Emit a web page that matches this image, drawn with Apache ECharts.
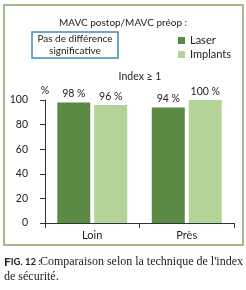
<!DOCTYPE html>
<html>
<head>
<meta charset="utf-8">
<script src="https://cdn.jsdelivr.net/npm/echarts@6/dist/echarts.min.js"></script>
<style>
  html, body { margin: 0; padding: 0; background: #fff; }
  #mainChart { width: 246px; height: 290px; }
</style>
</head>
<body>
<div id="mainChart"></div>
<script>
var categories = ['Loin', 'Près'];
var laser = [98, 94];
var implants = [96, 100];
var yTicks = [0, 20, 40, 60, 80, 100];

var font = "Lato, sans-serif";
var dark = '#5b8a44';
var light = '#b3d398';

var chart = echarts.init(document.getElementById('mainChart'));

var option = {
    animation: false,
    textStyle: { fontFamily: font },
    title: {
        text: 'MAVC postop/MAVC préop :',
        left: 'center',
        top: 13,
        textStyle: { fontSize: 10, fontWeight: 'normal', color: '#222', fontFamily: font }
    },
    legend: {
        data: ['Laser', 'Implants'],
        orient: 'vertical',
        left: 173,
        top: 30,
        itemWidth: 7,
        itemHeight: 7,
        itemGap: 3,
        icon: 'rect',
        textStyle: { fontSize: 11, color: '#222', fontFamily: font }
    },
    grid: { left: 45, right: 12, top: 100, bottom: 67, containLabel: false },
    xAxis: {
        type: 'category',
        data: categories,
        axisLine: { lineStyle: { color: '#333', width: 1 } },
        axisTick: { show: true, length: 5, lineStyle: { color: '#333' } },
        axisLabel: { fontSize: 11, color: '#222', margin: 7 }
    },
    yAxis: {
        type: 'value',
        min: 0,
        max: 100,
        interval: 20,
        name: '%',
        nameGap: 4,
        nameTextStyle: { fontSize: 10.5, color: '#222' },
        splitLine: { show: false },
        axisLine: { show: true, lineStyle: { color: '#333', width: 1 } },
        axisTick: { show: true, length: 5, lineStyle: { color: '#333' } },
        axisLabel: {
            fontSize: 10.5, color: '#222', margin: 17,
            formatter: function (v) { return yTicks.indexOf(v) >= 0 ? String(v) : ''; }
        }
    },
    series: [
        {
            name: 'Laser',
            type: 'bar',
            data: laser,
            barWidth: 33,
            barGap: '12%',
            itemStyle: { color: dark },
            label: { show: true, position: 'top', distance: 3, fontSize: 10.5, color: '#222', formatter: '{c} %' }
        },
        {
            name: 'Implants',
            type: 'bar',
            data: implants,
            barWidth: 33,
            itemStyle: { color: light },
            label: { show: true, position: 'top', distance: 3, fontSize: 10.5, color: '#222', formatter: '{c} %' }
        }
    ],
    graphic: [
        {
            type: 'rect',
            shape: { x: 4, y: 5, width: 239, height: 240 },
            style: { fill: 'none', stroke: '#86a56a', lineWidth: 1.5 },
            silent: true
        },
        {
            type: 'rect',
            shape: { x: 32, y: 32, width: 86, height: 26 },
            style: { fill: 'none', stroke: '#3f8cb5', lineWidth: 1.5 }
        },
        {
            type: 'text',
            style: {
                text: 'Pas de différence\nsignificative',
                x: 75, y: 45,
                align: 'center', verticalAlign: 'middle',
                font: '10px ' + font, fill: '#222', lineHeight: 12
            }
        },
        {
            type: 'text',
            style: {
                text: 'Index ≥ 1',
                x: 140, y: 77,
                align: 'center', verticalAlign: 'middle',
                font: '10.5px ' + font, fill: '#222'
            }
        },
        {
            type: 'text',
            style: {
                text: '{a|F}{b|IG. 12 :}',
                x: 4, y: 262,
                verticalAlign: 'middle',
                rich: {
                    a: { fontFamily: font, fontWeight: 'bold', fontSize: 12, fill: '#222' },
                    b: { fontFamily: font, fontWeight: 'bold', fontSize: 9.5, fill: '#222' }
                }
            }
        },
        {
            type: 'text',
            style: {
                text: "Comparaison selon la technique de l'index",
                x: 243, y: 262,
                align: 'right', verticalAlign: 'middle',
                font: "12px 'Liberation Serif', serif", fill: '#222'
            }
        },
        {
            type: 'text',
            style: {
                text: 'de sécurité.',
                x: 4, y: 277,
                verticalAlign: 'middle',
                font: "12px 'Liberation Serif', serif", fill: '#222'
            }
        }
    ]
};

chart.setOption(option);
</script>
</body>
</html>
